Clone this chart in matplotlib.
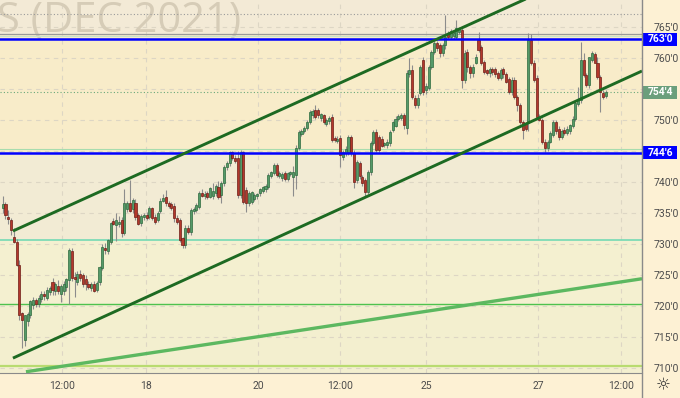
import numpy as np
import matplotlib
matplotlib.use("Agg")
import matplotlib.pyplot as plt
from matplotlib.patches import Rectangle
from matplotlib.lines import Line2D
from matplotlib.transforms import blended_transform_factory

plt.rcParams['font.family'] = ['Roboto', 'DejaVu Sans']

# hourly candles, Oct 2021 (open, high, low, close)
opens = [735.8, 736.4, 734.4, 733.8, 731.2, 730.4, 726.6, 718.8, 714.5, 717.6,
         718.5, 720.2, 720.9, 720.4, 721.2, 721.9, 721.3, 722.3, 723.9, 722.4,
         723.3, 722.0, 722.4, 723.0, 724.2, 728.9, 724.7, 723.9, 725.2, 725.0,
         724.4, 723.6, 722.9, 723.6, 722.6, 723.8, 726.1,
         729.4, 728.8, 730.4, 733.7, 733.0, 733.2, 733.8, 731.8, 735.6, 736.6,
         735.6, 736.6, 734.6, 733.4, 734.4, 734.6, 734.3, 735.8, 734.4, 733.8,
         735.3, 737.0, 737.6, 736.6, 736.4, 736.2, 734.2, 733.9, 730.9, 729.8,
         732.6, 732.0, 735.3, 735.5, 736.0, 738.3, 737.7, 738.2, 737.6,
         737.8, 738.2, 739.2, 737.9, 739.8, 742.4, 743.1, 744.8, 743.9, 743.9,
         737.9, 744.8, 738.7, 736.6, 736.8, 737.3, 737.8, 738.2, 738.6, 738.8,
         739.2, 740.9, 741.5, 742.7, 741.0, 740.6, 741.4, 740.5, 741.3, 740.8,
         741.1, 745.5, 747.8, 748.3, 748.7, 749.7, 750.8, 751.6,
         751.6, 750.4, 750.8, 749.4, 749.8, 750.5, 747.1, 746.6, 747.1, 744.0,
         744.6, 744.8, 747.3, 744.7, 740.3, 743.0, 740.8, 740.3, 738.4, 741.6,
         746.3, 748.1, 747.2, 747.0, 746.0, 746.0, 746.3, 748.4, 749.0, 750.2,
         750.4, 750.8, 748.7, 757.4, 758.1, 753.5, 752.4, 754.4,
         759.7, 754.8, 755.2, 758.5, 761.0, 762.4, 762.1, 760.8, 762.1, 764.0,
         763.4, 763.5, 763.4, 764.2, 764.5, 756.5, 761.0, 758.5, 757.5, 759.2,
         762.9, 761.8, 759.4, 758.0, 757.5, 758.2, 758.3, 757.6, 756.8, 758.2,
         757.4, 756.6, 754.5, 756.5, 753.7, 752.4, 749.7, 749.3, 749.5,
         762.9, 759.2, 756.8, 750.5, 750.0, 746.5, 745.5, 746.5, 747.6, 749.7,
         748.6, 747.2, 748.4, 747.9, 748.2, 749.0, 750.2, 752.6, 753.2, 759.7,
         757.3, 755.6, 759.7, 760.6, 759.2, 756.9, 754.4, 753.9]
highs = [737.8, 736.8, 735.5, 734.2, 732.6, 730.8, 727.5, 719.0, 718.6, 719.0,
         721.0, 721.4, 721.3, 721.8, 722.4, 722.5, 723.0, 723.2, 724.6, 723.9,
         724.2, 723.6, 724.0, 724.6, 729.4, 729.3, 725.5, 725.6, 725.8, 725.4,
         725.0, 724.0, 723.9, 724.0, 724.0, 726.5, 730.0,
         730.2, 730.8, 733.6, 734.2, 735.0, 734.5, 734.3, 738.8, 737.0, 740.3,
         737.4, 737.2, 735.0, 734.8, 735.0, 735.2, 736.2, 736.0, 734.8, 735.4,
         737.4, 738.0, 738.7, 737.0, 736.8, 736.6, 734.6, 734.2, 731.2, 733.0,
         733.0, 735.8, 736.0, 736.6, 738.5, 738.8, 738.5, 738.6, 739.2,
         739.8, 739.6, 740.2, 740.2, 742.8, 743.4, 745.0, 745.0, 744.4, 745.0,
         745.2, 745.0, 739.2, 738.6, 738.6, 738.2, 738.3, 739.0, 739.4, 739.6,
         741.4, 741.8, 743.0, 743.0, 741.8, 741.6, 741.8, 741.6, 741.8, 742.6,
         746.0, 748.4, 748.6, 749.0, 750.0, 751.6, 751.8, 752.4,
         752.0, 751.2, 751.0, 750.4, 750.7, 750.9, 747.4, 747.4, 747.5, 745.2,
         745.8, 747.5, 747.6, 745.2, 743.5, 743.4, 741.2, 740.6, 741.9, 746.6,
         748.4, 748.5, 747.6, 747.4, 746.5, 746.9, 748.4, 749.9, 750.6, 751.0,
         751.1, 751.2, 758.0, 760.0, 758.8, 754.0, 754.2, 758.8,
         760.2, 756.0, 758.8, 761.3, 762.8, 762.7, 762.4, 762.4, 767.0, 764.4,
         764.6, 764.5, 766.1, 765.0, 765.2, 761.3, 761.4, 758.8, 759.0, 760.6,
         764.2, 762.1, 759.7, 758.3, 758.6, 758.6, 758.6, 757.9, 758.4, 758.5,
         757.8, 756.9, 757.0, 756.9, 754.0, 752.7, 750.0, 749.6, 764.0,
         763.8, 759.6, 757.2, 750.9, 750.4, 746.9, 746.8, 748.2, 750.0, 750.0,
         749.0, 748.6, 748.8, 749.0, 749.4, 750.6, 753.0, 755.3, 762.6, 760.8,
         757.6, 759.5, 761.1, 760.9, 760.2, 757.2, 754.8, 754.8]
lows = [735.0, 734.0, 733.3, 731.5, 730.2, 726.4, 717.8, 713.2, 713.6, 716.8,
        718.0, 719.6, 719.9, 719.8, 720.6, 721.0, 720.9, 721.8, 721.7, 721.8,
        722.0, 720.6, 721.8, 722.5, 720.4, 724.0, 721.5, 723.4, 724.0, 723.0,
        722.6, 722.8, 722.5, 722.3, 722.2, 723.4, 725.8,
        728.4, 728.4, 730.0, 733.0, 730.5, 732.8, 731.2, 731.5, 735.2, 735.2,
        735.0, 733.8, 733.0, 732.9, 733.9, 733.9, 734.0, 733.8, 733.2, 733.5,
        735.0, 736.8, 736.2, 735.8, 735.5, 733.5, 733.2, 730.3, 729.3, 729.4,
        731.6, 731.5, 734.9, 735.2, 735.6, 737.6, 737.2, 737.3, 737.4,
        737.2, 737.8, 737.2, 736.6, 739.4, 742.0, 742.6, 743.6, 743.0, 737.4,
        737.5, 736.4, 735.2, 736.2, 736.4, 737.0, 737.3, 737.8, 738.3, 738.4,
        738.8, 740.6, 741.2, 740.8, 740.7, 740.2, 740.2, 740.2, 740.9, 737.8,
        738.8, 745.2, 747.4, 747.9, 748.4, 749.4, 750.4, 750.2,
        750.4, 749.8, 749.4, 749.0, 749.4, 746.5, 746.4, 746.3, 742.4, 743.5,
        744.2, 744.4, 744.2, 739.0, 739.8, 740.5, 739.4, 737.8, 738.0, 741.2,
        746.0, 744.8, 744.8, 745.6, 745.6, 745.5, 745.8, 748.0, 748.8, 749.8,
        750.0, 748.6, 747.8, 757.0, 753.4, 751.9, 752.0, 754.0,
        754.0, 754.2, 754.8, 758.2, 760.6, 761.2, 760.2, 760.3, 761.4, 763.0,
        763.0, 763.0, 763.0, 763.8, 755.2, 756.0, 757.8, 756.8, 757.0, 759.0,
        761.0, 758.8, 757.4, 757.2, 757.0, 757.3, 757.0, 756.4, 756.5, 756.8,
        755.9, 754.2, 754.0, 753.4, 751.5, 749.4, 747.0, 748.2, 748.2,
        758.8, 756.2, 750.2, 749.8, 746.2, 744.8, 745.0, 746.3, 747.3, 747.8,
        746.8, 746.9, 747.6, 747.6, 747.8, 748.7, 749.8, 752.3, 752.8, 757.0,
        755.4, 755.2, 759.4, 759.6, 756.6, 751.3, 753.4, 753.6]
closes = [736.4, 734.7, 734.0, 732.3, 730.4, 726.6, 718.5, 717.8, 718.5, 718.7,
          720.8, 720.9, 720.4, 721.3, 721.9, 721.6, 722.6, 722.9, 722.6, 723.6,
          722.5, 723.3, 723.5, 724.3, 729.0, 724.5, 724.3, 725.2, 724.6, 723.6,
          723.5, 723.1, 723.6, 722.5, 723.7, 726.3, 729.5,
          729.0, 730.6, 733.4, 733.3, 733.8, 733.6, 731.8, 736.6, 736.6, 735.4,
          737.1, 734.4, 733.3, 734.5, 734.6, 734.2, 735.8, 734.2, 733.6, 735.0,
          737.0, 737.4, 736.6, 736.2, 735.8, 734.2, 733.6, 730.6, 729.8, 732.6,
          731.9, 735.5, 735.6, 736.3, 738.2, 737.8, 738.1, 737.6, 739.0,
          738.5, 739.3, 737.6, 739.8, 742.4, 743.1, 744.8, 743.9, 743.4, 737.9,
          744.8, 736.8, 736.6, 738.2, 738.4, 737.9, 738.0, 738.8, 739.2, 739.3,
          741.1, 741.6, 742.7, 741.1, 741.5, 741.3, 740.5, 741.4, 741.6, 741.6,
          745.5, 748.1, 748.3, 748.7, 749.7, 751.3, 751.4, 750.5,
          750.8, 750.9, 749.7, 750.0, 750.4, 746.8, 746.7, 747.0, 744.4, 744.8,
          745.4, 747.3, 744.8, 740.0, 743.2, 741.0, 739.8, 738.4, 741.6, 746.3,
          748.1, 745.2, 745.2, 745.8, 746.3, 746.5, 748.1, 749.7, 750.2, 750.6,
          750.8, 749.2, 757.6, 758.1, 753.7, 752.4, 753.6, 758.5,
          754.5, 755.5, 758.5, 761.0, 762.4, 761.6, 760.8, 762.1, 763.4, 763.4,
          764.3, 764.0, 764.8, 764.6, 756.5, 760.8, 758.5, 757.5, 758.6, 760.2,
          761.3, 759.2, 757.7, 757.5, 758.2, 757.7, 757.4, 756.7, 758.0, 757.4,
          756.2, 754.5, 756.5, 753.7, 752.4, 749.7, 748.4, 748.6, 762.9,
          759.2, 756.5, 750.5, 750.0, 746.5, 745.5, 746.5, 747.9, 749.7, 748.2,
          747.2, 748.3, 747.9, 748.6, 749.2, 750.2, 752.7, 753.4, 759.7, 757.3,
          755.6, 760.2, 760.8, 759.2, 756.9, 754.5, 753.7, 754.5]

# time axis labels (bar index)
tick_pos = [21.4, 51.8, 92.3, 121.9, 153.0, 193.5, 223.5]
tick_labels = ['12:00', '18', '20', '12:00', '25', '27', '12:00']

# price scale: grid every 5, labels hidden where a price tag sits
grid_prices = list(range(710, 770, 5))
label_prices = [710, 715, 720, 725, 730, 735, 740, 750, 760, 765]

# levels drawn on the chart
blue_levels = [763.0, 744.75]
blue_labels = ["763'0", "744'6"]
last_price = 754.5
last_label = "754'4"
upper_channel = ([3.7, 189.5], [732.1, 769.6])
lower_channel = ([3.7, 231.1], [711.6, 757.9])
long_trend = ([8.4, 231.1], [709.4, 724.4])
# price zones (bottom, top, colour)
zone_edges = [709.0, 720.4, 730.6, 744.75, 763.9, 770.0]
zone_colors = ['#f3efcf', '#f4f0d0', '#f2ebd4', '#f8ecc9', '#f3ead6']

n = len(closes)
x = np.arange(n)
o = np.array(opens); h = np.array(highs); l = np.array(lows); c = np.array(closes)

fig = plt.figure(figsize=(6.8, 3.98), dpi=100)
fig.patch.set_facecolor('#fdf1d4')
ax = fig.add_axes([0, 25 / 398, 642 / 680, 373 / 398])
ax.set_xlim(-0.98, 231.1)
ax.set_ylim(709.2, 769.35)

for i in range(len(zone_colors)):
    ax.axhspan(zone_edges[i], zone_edges[i + 1], color=zone_colors[i], lw=0, zorder=0)

# grid
for p in grid_prices:
    ax.axhline(p, color='#ddd6c4', lw=0.8, ls=(0, (4, 4)), zorder=0.5)
for t in tick_pos:
    ax.axvline(t, color='#ddd6c4', lw=0.8, ls=(0, (4, 4)), zorder=0.5)

ax.text(-3 / 642, (373 - 32) / 373, 'S (DEC 2021)', transform=ax.transAxes,
        fontsize=30, family=['Open Sans', 'DejaVu Sans'], color='#d6ccb7',
        ha='left', va='baseline', zorder=0.6, clip_on=True)

# horizontal lines
ax.axhline(767.1, color='#9a9a9a', lw=0.8, ls=(0, (1, 2)), zorder=1)
ax.axhline(763.9, color='#9a9a9a', lw=0.9, zorder=1)
ax.axhline(763.5, color='#c4e3cf', lw=0.8, zorder=1)
ax.axhline(745.25, color='#a8dcae', lw=0.8, zorder=1)
for lv in blue_levels:
    ax.axhline(lv, color='#0000ff', lw=1.8, zorder=4)
ax.axhline(last_price, color='#6aa87a', lw=0.8, ls=(0, (1, 2)), zorder=1)
ax.axhline(730.6, color='#74dab4', lw=1.2, zorder=1)
ax.axhline(720.4, color='#4ec24e', lw=1.0, zorder=1)
ax.axhline(710.3, color='#b8db70', lw=1.6, zorder=1)

# candles
up = c >= o
ax.vlines(x, l, h, color='#8c8c8c', lw=0.8, zorder=2)
body_low = np.minimum(o, c)
body_h = np.maximum(np.abs(c - o), 0.15)
ax.bar(x[up], body_h[up], bottom=body_low[up], width=0.75,
       color='#559a69', edgecolor='#2d6a3d', lw=0.5, zorder=3)
ax.bar(x[~up], body_h[~up], bottom=body_low[~up], width=0.75,
       color='#b3382c', edgecolor='#6e1d16', lw=0.5, zorder=3)

# trend lines
ax.plot(*upper_channel, color='#1d6a22', lw=2.1, solid_capstyle='butt', zorder=5)
ax.plot(*lower_channel, color='#1d6a22', lw=2.1, solid_capstyle='butt', zorder=5)
ax.plot(*long_trend, color='#5cb860', lw=2.4, solid_capstyle='butt', zorder=5)

# axes look
for s in ['top', 'left']:
    ax.spines[s].set_visible(False)
ax.spines['bottom'].set_color('#8a8a8a')
ax.spines['right'].set_visible(False)
fig.add_artist(Line2D([642 / 680, 642 / 680], [0, 1], color='#8a8a8a', lw=1.0))
ax.yaxis.tick_right()
ax.set_yticks(label_prices)
ax.set_yticklabels([f"{p}'0" for p in label_prices])
ax.tick_params(axis='y', length=0, pad=8, labelsize=7.5, labelcolor='#4d4d4d')
ax.set_xticks(tick_pos)
ax.set_xticklabels(tick_labels)
ax.tick_params(axis='x', length=0, pad=6, labelsize=7.5, labelcolor='#4d4d4d')

# price tags on right scale
tr = blended_transform_factory(ax.transAxes, ax.transData)
tags = list(zip(blue_levels, blue_labels, ['#0000ff'] * 2)) + [(last_price, last_label, '#6b9f7c')]
for price, lab, col in tags:
    ax.add_patch(Rectangle((1.002, price - 1.05), 0.053, 2.1, transform=tr,
                           facecolor=col, edgecolor='none', clip_on=False, zorder=6))
    ax.text(1.0285, price, lab, transform=tr, ha='center', va='center',
            color='white', fontsize=7.5, fontweight='bold', zorder=7, clip_on=False)

fig.text(663 / 680, (398 - 385) / 398, '\u263c', fontsize=12, color='#333333',
         ha='center', va='center', family='DejaVu Sans')

fig.savefig('out.png', dpi=100, facecolor=fig.get_facecolor())
